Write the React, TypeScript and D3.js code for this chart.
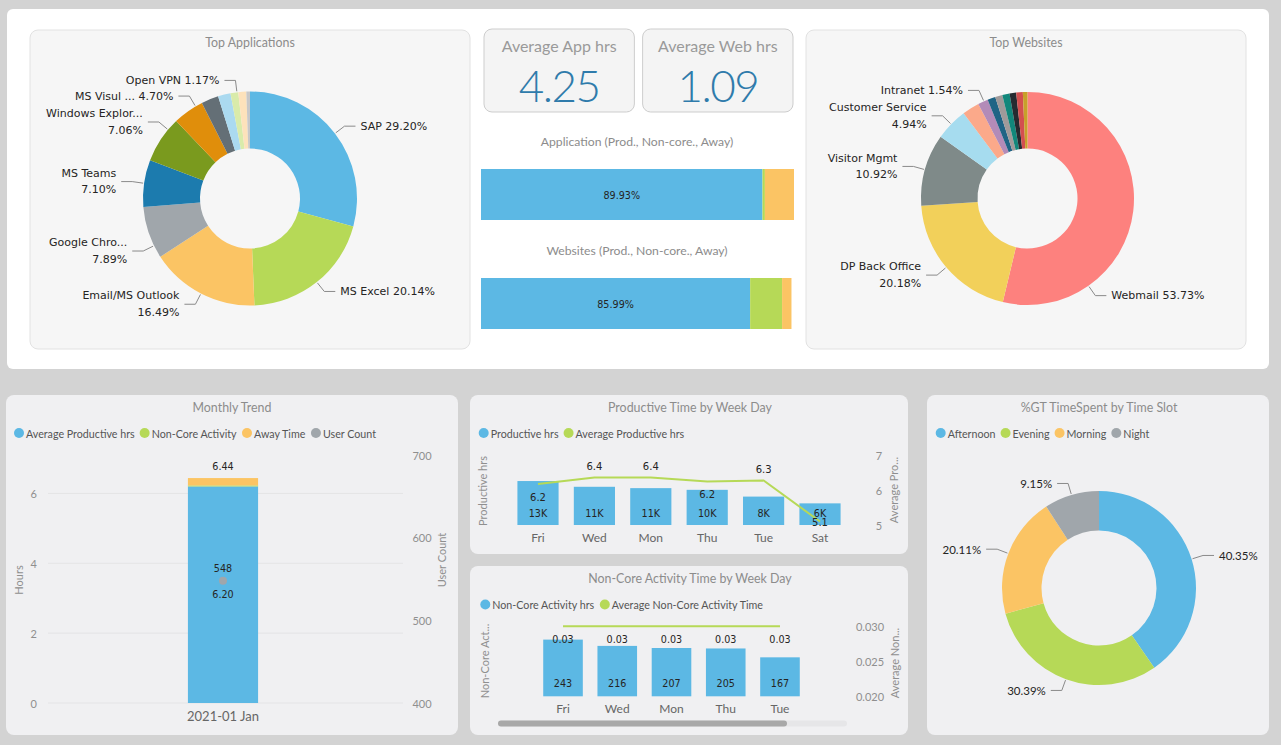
import React from 'react';
import * as d3 from 'd3';

const W = 1281;
const H = 745;

// ---------- Top Applications ----------
const appNames = ['SAP', 'MS Excel', 'Email/MS Outlook', 'Google Chro...', 'MS Teams', 'Windows Explor...', 'MS Visul ...', 'Other A', 'Other B', 'Open VPN', 'Other C', 'Other D'];
const appValues = [29.2, 20.14, 16.49, 7.89, 7.1, 7.06, 4.7, 2.6, 1.9, 1.17, 1.2, 0.55];
const appShowLabel = [true, true, true, true, true, true, true, false, false, true, false, false];
const appTwoLine = [false, false, true, true, true, true, false, false, false, false, false, false];
const appLabelAt = [0.5, 0.5, 0.5, 0.24, 0.5, 0.75, 0.77, 0.5, 0.5, 0.83, 0.5, 0.5];
const appColors = ['#5cb8e4', '#b6d957', '#fbc464', '#a0a6ab', '#1c7bae', '#7a9a1e', '#e08e0b', '#646f76', '#abdaf0', '#d9ebaa', '#fde2bb', '#c8c8c8'];

// ---------- Top Websites ----------
const webNames = ['Webmail', 'DP Back Office', 'Visitor Mgmt', 'Customer Service', 'Site E', 'Intranet', 'Site G', 'Site H', 'Site I', 'Site J', 'Site K', 'Site L'];
const webValues = [53.73, 20.18, 10.92, 4.94, 2.6, 1.54, 1.2, 1.1, 1.1, 1.0, 1.0, 0.7];
const webShowLabel = [true, true, true, true, false, true, false, false, false, false, false, false];
const webTwoLine = [false, true, true, true, false, false, false, false, false, false, false, false];
const webLabelAt = [0.75, 0.5, 0.5, 0.5, 0.5, 0.6, 0.5, 0.5, 0.5, 0.5, 0.5, 0.5];
const webColors = ['#fd817e', '#f2d05a', '#7f8a89', '#a6dcef', '#fba98a', '#b38bb8', '#1f6485', '#a09a9a', '#12877b', '#262b31', '#d34f4f', '#c8a02a'];

// ---------- KPIs ----------
const kpiTitles = ['Average App hrs', 'Average Web hrs'];
const kpiValues = ['4.25', '1.09'];

// ---------- Prod / Non-core / Away split ----------
const splitTitles = ['Application (Prod., Non-core., Away)', 'Websites (Prod., Non-core., Away)'];
const splitProd = [89.93, 85.99];
const splitNonCore = [0.77, 10.2];
const splitAway = [9.3, 3.0];
const splitColors = ['#5cb8e4', '#b6d957', '#fbc464'];

// ---------- Monthly Trend ----------
const monthLabels = ['2021-01 Jan'];
const monthProductive = [6.2];
const monthNonCore = [0.03];
const monthAway = [0.21];
const monthUsers = [548];
const hourTicks = [0, 2, 4, 6];
const userTicks = [400, 500, 600, 700];
const monthLegend = ['Average Productive hrs', 'Non-Core Activity', 'Away Time', 'User Count'];
const monthLegendColors = ['#5cb8e4', '#b6d957', '#fbc464', '#a0a6ab'];

// ---------- Productive Time by Week Day ----------
const prodDays = ['Fri', 'Wed', 'Mon', 'Thu', 'Tue', 'Sat'];
const prodHours = [13000, 11300, 10900, 10400, 8400, 6400];
const prodAvg = [6.17, 6.36, 6.36, 6.24, 6.27, 5.1];
const prodAvgLabelPos = ['below', 'above', 'above', 'below', 'above', 'center'];
const prodRightTicks = [5, 6, 7];
const prodLegend = ['Productive hrs', 'Average Productive hrs'];

// ---------- Non-Core Activity Time by Week Day ----------
const ncDays = ['Fri', 'Wed', 'Mon', 'Thu', 'Tue'];
const ncHours = [243, 216, 207, 205, 167];
const ncAvg = [0.03, 0.03, 0.03, 0.03, 0.03];
const ncRightTicks = [0.02, 0.025, 0.03];
const ncLegend = ['Non-Core Activity hrs', 'Average Non-Core Activity Time'];

// ---------- %GT TimeSpent by Time Slot ----------
const slotNames = ['Afternoon', 'Evening', 'Morning', 'Night'];
const slotValues = [40.35, 30.39, 20.11, 9.15];
const slotColors = ['#5cb8e4', '#b6d957', '#fbc464', '#a0a6ab'];

const UI = 'Lato, "Open Sans", sans-serif';
const DATA = '"DejaVu Sans", Verdana, sans-serif';
const BLUE = '#5cb8e4';
const GREEN = '#b6d957';
const TITLE = '#8c8c8c';
const TICK = '#8f8f8f';
const LABEL = '#252423';
const LEGEND_SIZE = 10.7;

let _ctx: CanvasRenderingContext2D | null = null;
function tw(text: string, font: string): number {
  if (!_ctx && typeof document !== 'undefined') _ctx = document.createElement('canvas').getContext('2d');
  if (!_ctx) return text.length * 6;
  _ctx.font = font;
  return _ctx.measureText(text).width;
}

function Card({ x, y, w, h, title, titleX, titleY, fill = '#f0f0f2', stroke = 'none' }: any) {
  return (
    <g>
      <rect x={x} y={y} width={w} height={h} rx={8} fill={fill} stroke={stroke} />
      {title && (
        <text x={titleX ?? x + w / 2} y={titleY ?? y + 12} textAnchor="middle" dominantBaseline="central" fontFamily={UI} fontSize={12.4} fill={TITLE}>
          {title}
        </text>
      )}
    </g>
  );
}

function Legend({ x, y, items, colors }: any) {
  let cx = x;
  const font = `${LEGEND_SIZE}px ${UI}`;
  return (
    <g>
      {items.map((t: string, i: number) => {
        const w = tw(t, font);
        const el = (
          <g key={i}>
            <circle cx={cx} cy={y} r={5} fill={colors[i]} />
            <text x={cx + 7} y={y} dominantBaseline="central" fontFamily={UI} fontSize={LEGEND_SIZE} fill="#555">{t}</text>
          </g>
        );
        cx += 7 + w + 10;
        return el;
      })}
    </g>
  );
}

function Donut({ cx, cy, r, rIn, values, colors, names, show, twoLine, labelAt, nameInLabel = true, fontFamily = DATA, fontSize = 11 }: any) {
  const pie = d3.pie<number>().sort(null).value((d) => d)(values);
  const arc = d3.arc<any>().innerRadius(rIn).outerRadius(r);
  return (
    <g transform={`translate(${cx},${cy})`}>
      {pie.map((p, i) => (
        <path key={i} d={arc(p) as string} fill={colors[i]} />
      ))}
      {pie.map((p, i) => {
        if (!show[i]) return null;
        const f = labelAt ? labelAt[i] : 0.5;
        const a = p.startAngle + (p.endAngle - p.startAngle) * f;
        const sx = Math.sin(a);
        const sy = -Math.cos(a);
        const right = sx >= 0;
        const p0 = [(r + 1) * sx, (r + 1) * sy];
        const p1 = [(r + 12) * sx, (r + 12) * sy];
        const p2 = [p1[0] + (right ? 11 : -11), p1[1]];
        const tx = p2[0] + (right ? 5 : -5);
        const anchor = right ? 'start' : 'end';
        const pct = `${values[i].toFixed(2)}%`;
        return (
          <g key={'l' + i}>
            <polyline points={`${p0[0]},${p0[1]} ${p1[0]},${p1[1]} ${p2[0]},${p2[1]}`} fill="none" stroke="#8a8a8a" strokeWidth={1} />
            {nameInLabel && twoLine && twoLine[i] ? (
              <text textAnchor={anchor} fontFamily={fontFamily} fontSize={fontSize} fill={LABEL}>
                <tspan x={tx} y={p1[1] - 8.3} dominantBaseline="central">{names[i]}</tspan>
                <tspan x={tx} y={p1[1] + 8.3} dominantBaseline="central">{pct}</tspan>
              </text>
            ) : (
              <text x={tx} y={p1[1]} textAnchor={anchor} dominantBaseline="central" fontFamily={fontFamily} fontSize={fontSize} fill={LABEL}>
                {nameInLabel ? `${names[i]} ${pct}` : pct}
              </text>
            )}
          </g>
        );
      })}
    </g>
  );
}

function Kpis() {
  const xs = d3.scaleBand().domain(kpiTitles).range([484, 793]).paddingInner(0.052);
  return (
    <g>
      {kpiTitles.map((t, i) => {
        const x0 = xs(t) as number;
        const w = xs.bandwidth();
        return (
          <g key={i}>
            <rect x={x0} y={29} width={w} height={83} rx={8} fill="#f4f4f4" stroke="#cdcdcd" />
            <text x={x0 + w / 2} y={45} textAnchor="middle" dominantBaseline="central" fontFamily={UI} fontSize={16} fill="#9a9a9a">{t}</text>
            <text x={x0 + w / 2} y={85} textAnchor="middle" dominantBaseline="central" fontFamily={UI} fontWeight={300} fontSize={44} letterSpacing={-1.5} fill="#2f7bab">{kpiValues[i]}</text>
          </g>
        );
      })}
    </g>
  );
}

function Splits() {
  const x = d3.scaleLinear().domain([0, 100]).range([481, 794]);
  const rows = d3.scaleBand().domain(splitTitles).range([119, 337]).paddingInner(0);
  return (
    <g>
      {splitTitles.map((t, i) => {
        const top = rows(t) as number;
        const segs = [splitProd[i], splitNonCore[i], splitAway[i]];
        const stacked = d3.stack<any>().keys(['0', '1', '2'])([{ '0': segs[0], '1': segs[1], '2': segs[2] }]);
        return (
          <g key={i}>
            <text x={637} y={top + 22} textAnchor="middle" dominantBaseline="central" fontFamily={UI} fontSize={12.2} fill={TITLE}>{t}</text>
            {stacked.map((s, k) => (
              <rect key={k} x={x(s[0][0])} y={top + 50} width={x(s[0][1]) - x(s[0][0])} height={51} fill={splitColors[k]} />
            ))}
            <text x={(x(0) + x(segs[0])) / 2} y={top + 76} textAnchor="middle" dominantBaseline="central" fontFamily={DATA} fontSize={9.6} fill={LABEL}>{`${segs[0].toFixed(2)}%`}</text>
          </g>
        );
      })}
    </g>
  );
}

function Monthly() {
  const x = d3.scaleBand().domain(monthLabels).range([44, 402]).paddingOuter(0).paddingInner(0);
  const y = d3.scaleLinear().domain([0, 7.1]).range([703, 455]);
  const yU = d3.scaleLinear().domain([400, 700]).range([703, 455]);
  const rows = monthLabels.map((m, i) => ({ m, p: monthProductive[i], n: monthNonCore[i], a: monthAway[i] }));
  const stacked = d3.stack<any>().keys(['p', 'n', 'a'])(rows);
  const bw = x.bandwidth() * 0.196;
  return (
    <g>
      <Card x={6} y={395} w={452} h={340} title="Monthly Trend" titleY={407} titleX={232} />
      <Legend x={19} y={433} items={monthLegend} colors={monthLegendColors} />
      {hourTicks.map((t) => (
        <g key={t}>
          <line x1={48} x2={403} y1={y(t)} y2={y(t)} stroke="#e4e4e6" />
          <text x={37} y={y(t)} textAnchor="end" dominantBaseline="central" fontFamily={UI} fontSize={11} fill={TICK}>{t}</text>
        </g>
      ))}
      {userTicks.map((t) => (
        <text key={t} x={422} y={yU(t)} textAnchor="middle" dominantBaseline="central" fontFamily={UI} fontSize={11} fill={TICK}>{t}</text>
      ))}
      <text transform={`translate(18,580) rotate(-90)`} textAnchor="middle" dominantBaseline="central" fontFamily={UI} fontSize={11} fill={TICK}>Hours</text>
      <text transform={`translate(441,560) rotate(-90)`} textAnchor="middle" dominantBaseline="central" fontFamily={UI} fontSize={11} fill={TICK}>User Count</text>
      {stacked.map((s, k) =>
        s.map((d, j) => {
          const cx = (x(rows[j].m) as number) + x.bandwidth() / 2;
          return <rect key={k + '-' + j} x={cx - bw / 2} y={y(d[1])} width={bw} height={y(d[0]) - y(d[1])} fill={monthLegendColors[k]} />;
        })
      )}
      {rows.map((r, j) => {
        const cx = (x(r.m) as number) + x.bandwidth() / 2;
        const total = r.p + r.n + r.a;
        return (
          <g key={j}>
            <text x={cx} y={y(total) - 12} textAnchor="middle" dominantBaseline="central" fontFamily={DATA} fontSize={9.6} fill={LABEL}>{total.toFixed(2)}</text>
            <text x={cx} y={(y(0) + y(r.p)) / 2} textAnchor="middle" dominantBaseline="central" fontFamily={DATA} fontSize={9.6} fill={LABEL}>{r.p.toFixed(2)}</text>
            <circle cx={cx} cy={yU(monthUsers[j])} r={4} fill="#a0a6ab" />
            <text x={cx} y={yU(monthUsers[j]) - 12.5} textAnchor="middle" dominantBaseline="central" fontFamily={DATA} fontSize={9.6} fill={LABEL}>{monthUsers[j]}</text>
            <text x={cx} y={716} textAnchor="middle" dominantBaseline="central" fontFamily={UI} fontSize={13} fill="#666">{r.m}</text>
          </g>
        );
      })}
    </g>
  );
}

function Productive() {
  const x = d3.scaleBand().domain(prodDays).range([509.8, 848.2]).paddingInner(0.27).paddingOuter(0.135);
  const y = d3.scaleLinear().domain([0, 20700]).range([525, 455]);
  const yR = d3.scaleLinear().domain([5, 7]).range([525, 455]);
  const cx = (d: string) => (x(d) as number) + x.bandwidth() / 2;
  const line = d3.line<number>().x((_, i) => cx(prodDays[i])).y((v) => yR(v));
  const off: any = { above: -11, below: 13, center: 1 };
  return (
    <g>
      <Card x={470} y={395} w={438} h={159} title="Productive Time by Week Day" titleY={407} titleX={690} />
      <Legend x={483.7} y={433} items={prodLegend} colors={[BLUE, GREEN]} />
      <text transform={`translate(482,491) rotate(-90)`} textAnchor="middle" dominantBaseline="central" fontFamily={UI} fontSize={11} fill={TICK}>Productive hrs</text>
      <text transform={`translate(893,490) rotate(-90)`} textAnchor="middle" dominantBaseline="central" fontFamily={UI} fontSize={11} fill={TICK}>Average Pro...</text>
      {prodRightTicks.map((t) => (
        <text key={t} x={879} y={yR(t)} textAnchor="middle" dominantBaseline="central" fontFamily={UI} fontSize={11} fill={TICK}>{t}</text>
      ))}
      {prodDays.map((d, i) => (
        <g key={d}>
          <rect x={x(d)} y={y(prodHours[i])} width={x.bandwidth()} height={y(0) - y(prodHours[i])} fill={BLUE} />
          <text x={cx(d)} y={y(0) - 12} textAnchor="middle" dominantBaseline="central" fontFamily={DATA} fontSize={9.6} fill={LABEL}>{`${Math.round(prodHours[i] / 1000)}K`}</text>
          <text x={cx(d)} y={537} textAnchor="middle" dominantBaseline="central" fontFamily={UI} fontSize={12} fill="#666">{d}</text>
        </g>
      ))}
      <path d={line(prodAvg) as string} fill="none" stroke={GREEN} strokeWidth={2} />
      {prodDays.map((d, i) => (
        <text key={'a' + d} x={cx(d)} y={yR(prodAvg[i]) + off[prodAvgLabelPos[i]]} textAnchor="middle" dominantBaseline="central" fontFamily={DATA} fontSize={10} fill={LABEL}>{prodAvg[i].toFixed(1)}</text>
      ))}
    </g>
  );
}

function NonCore() {
  const x = d3.scaleBand().domain(ncDays).range([535.9, 807.1]).paddingInner(0.27).paddingOuter(0.135);
  const y = d3.scaleLinear().domain([0, 300]).range([696.3, 626.3]);
  const yR = d3.scaleLinear().domain([0.02, 0.03]).range([696.3, 626.3]);
  const cx = (d: string) => (x(d) as number) + x.bandwidth() / 2;
  const line = d3.line<number>().x((_, i) => cx(ncDays[i])).y((v) => yR(v));
  return (
    <g>
      <Card x={470} y={566} w={438} h={169} title="Non-Core Activity Time by Week Day" titleY={578} titleX={690} />
      <Legend x={485.3} y={604.5} items={ncLegend} colors={[BLUE, GREEN]} />
      <text transform={`translate(484.5,661) rotate(-90)`} textAnchor="middle" dominantBaseline="central" fontFamily={UI} fontSize={11} fill={TICK}>Non-Core Act...</text>
      <text transform={`translate(894,663) rotate(-90)`} textAnchor="middle" dominantBaseline="central" fontFamily={UI} fontSize={11} fill={TICK}>Average Non...</text>
      {ncRightTicks.map((t) => (
        <text key={t} x={870} y={yR(t)} textAnchor="middle" dominantBaseline="central" fontFamily={UI} fontSize={11} fill={TICK}>{t.toFixed(3)}</text>
      ))}
      {ncDays.map((d, i) => (
        <g key={d}>
          <rect x={x(d)} y={y(ncHours[i])} width={x.bandwidth()} height={y(0) - y(ncHours[i])} fill={BLUE} />
          <text x={cx(d)} y={y(0) - 12.6} textAnchor="middle" dominantBaseline="central" fontFamily={DATA} fontSize={9.6} fill={LABEL}>{ncHours[i]}</text>
          <text x={cx(d)} y={708} textAnchor="middle" dominantBaseline="central" fontFamily={UI} fontSize={12} fill="#666">{d}</text>
          <text x={cx(d)} y={yR(ncAvg[i]) + 13} textAnchor="middle" dominantBaseline="central" fontFamily={DATA} fontSize={9.6} fill={LABEL}>{ncAvg[i].toFixed(2)}</text>
        </g>
      ))}
      <path d={line(ncAvg) as string} fill="none" stroke={GREEN} strokeWidth={2} />
      <rect x={498} y={720.5} width={349} height={6} rx={3} fill="#e6e6e8" />
      <rect x={498} y={720.5} width={289} height={6} rx={3} fill="#a8a8a8" />
    </g>
  );
}

function TimeSlot() {
  return (
    <g>
      <Card x={927} y={395} w={342} h={340} title="%GT TimeSpent by Time Slot" titleY={407} titleX={1099} />
      <Legend x={940.7} y={433} items={slotNames} colors={slotColors} />
      <Donut cx={1099} cy={588} r={97} rIn={57.5} values={slotValues} colors={slotColors} names={slotNames}
        show={slotValues.map(() => true)} nameInLabel={false} fontFamily={UI} fontSize={11.5} />
    </g>
  );
}

export default function App() {
  return (
    <svg width={W} height={H} style={{ position: 'absolute', left: 0, top: 0, display: 'block' }} xmlns="http://www.w3.org/2000/svg">
      <rect width={W} height={H} fill="#d3d3d3" />
      <rect x={7} y={9} width={1262} height={360} rx={6} fill="#ffffff" />
      <Card x={30} y={30} w={440} h={319} title="Top Applications" titleY={42} fill="#f6f6f6" stroke="#e2e2e2" />
      <Donut cx={250} cy={198.5} r={107} rIn={50} values={appValues} colors={appColors} names={appNames}
        show={appShowLabel} twoLine={appTwoLine} labelAt={appLabelAt} />
      <Kpis />
      <Splits />
      <Card x={806} y={30} w={440} h={319} title="Top Websites" titleY={42} fill="#f6f6f6" stroke="#e2e2e2" />
      <Donut cx={1027.5} cy={198.5} r={106.5} rIn={50} values={webValues} colors={webColors} names={webNames}
        show={webShowLabel} twoLine={webTwoLine} labelAt={webLabelAt} />
      <Monthly />
      <Productive />
      <NonCore />
      <TimeSlot />
    </svg>
  );
}
